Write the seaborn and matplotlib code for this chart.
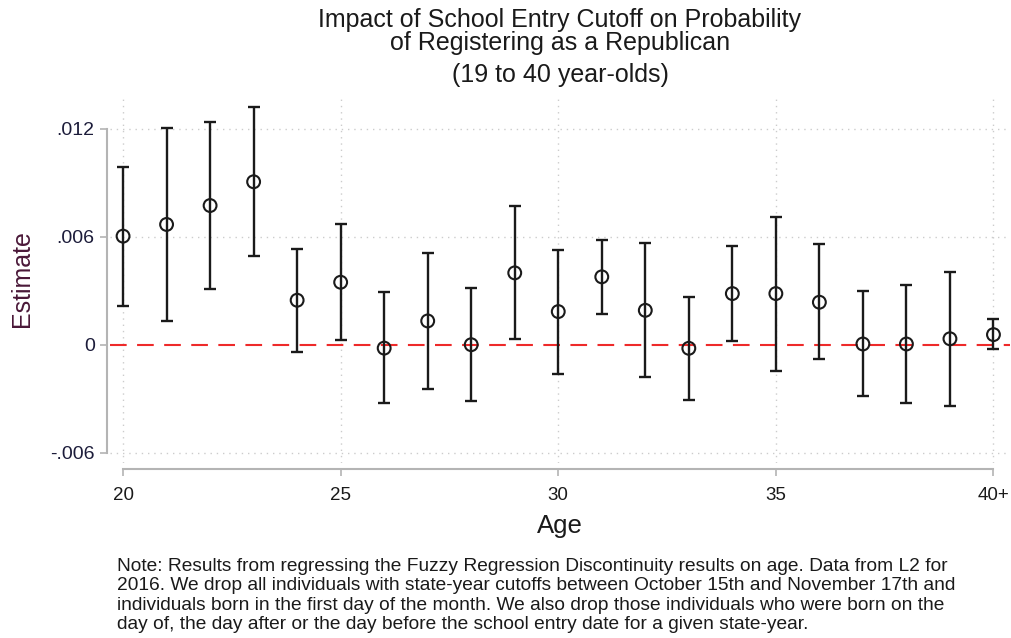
import numpy as np
import pandas as pd
import matplotlib
matplotlib.use("Agg")
import matplotlib.pyplot as plt
import seaborn as sns

# Point estimates and 95% confidence bounds by age (40 = "40+")
ages = [20, 21, 22, 23, 24, 25, 26, 27, 28, 29, 30,
        31, 32, 33, 34, 35, 36, 37, 38, 39, 40]
estimates = [0.00603, 0.00668, 0.00773, 0.00905, 0.00247, 0.00347, -0.00019,
             0.00132, 0.00000, 0.00399, 0.00184, 0.00377, 0.00191, -0.00020,
             0.00284, 0.00284, 0.00236, 0.00004, 0.00004, 0.00033, 0.00056]
ci_upper = [0.00989, 0.01206, 0.01239, 0.01319, 0.00532, 0.00673, 0.00291,
            0.00508, 0.00315, 0.00770, 0.00527, 0.00584, 0.00566, 0.00267,
            0.00549, 0.00712, 0.00558, 0.00297, 0.00332, 0.00406, 0.00141]
ci_lower = [0.00217, 0.00132, 0.00308, 0.00495, -0.00039, 0.00026, -0.00325,
            -0.00247, -0.00312, 0.00030, -0.00160, 0.00169, -0.00180, -0.00308,
            0.00020, -0.00145, -0.00082, -0.00287, -0.00323, -0.00338, -0.00026]

x_ticks = [20, 25, 30, 35, 40]
x_ticklabels = ["20", "25", "30", "35", "40+"]
y_ticks = [-0.006, 0, 0.006, 0.012]
y_ticklabels = ["-.006", "0", ".006", ".012"]

title_lines = ["Impact of School Entry Cutoff on Probability",
               "of Registering as a Republican"]
subtitle = "(19 to 40 year-olds)"
note_lines = [
    "Note: Results from regressing the Fuzzy Regression Discontinuity results on age. Data from L2 for",
    "2016. We drop all individuals with state-year cutoffs between October 15th and November 17th and",
    "individuals born in the first day of the month. We also drop those individuals who were born on the",
    "day of, the day after or the day before the school entry date for a given state-year.",
]

df = pd.DataFrame({"age": ages, "est": estimates,
                   "lo": ci_lower, "hi": ci_upper})

sns.set_theme(style="white")
plt.rcParams["font.family"] = ["Liberation Sans", "DejaVu Sans"]

W, H = 1011, 638
fig = plt.figure(figsize=(W / 100, H / 100), dpi=100)
AX_L, AX_R, AX_T, AX_B = 110, 1010, 95, 463
ax = fig.add_axes([AX_L / W, 1 - AX_B / H, (AX_R - AX_L) / W, (AX_B - AX_T) / H])

ink = "#1a1a1a"
grid_c = "#cccccc"
spine_c = "#b4b4b4"

# dotted grid
for yt in [-0.006, 0.006, 0.012]:
    ax.axhline(yt, color=grid_c, lw=1.0, ls=(0, (1, 3.5)), zorder=0)
for xt in x_ticks:
    ax.axvline(xt, color=grid_c, lw=1.0, ls=(0, (1, 3.5)), zorder=0)

# reference line at zero
ax.axhline(0, color="#ee2a2a", lw=1.5, ls=(0, (8, 5)), zorder=1)

# confidence intervals
ax.errorbar(df["age"], df["est"],
            yerr=[df["est"] - df["lo"], df["hi"] - df["est"]],
            fmt="none", ecolor=ink, elinewidth=1.7, capsize=4, capthick=1.7,
            zorder=2)

# point estimates as hollow circles
sns.scatterplot(data=df, x="age", y="est", ax=ax, marker="o", s=85,
                color=ink, edgecolor=ink, linewidth=1.5, zorder=3, legend=False)
for coll in ax.collections:
    if isinstance(coll, matplotlib.collections.PathCollection):
        coll.set_facecolor("none")
        coll.set_edgecolor(ink)

ax.set_xlim(19.7, 40.38)
ax.set_ylim(-0.00657, 0.01387)

ax.set_xticks(x_ticks)
ax.set_xticklabels(x_ticklabels)
ax.set_yticks(y_ticks)
ax.set_yticklabels(y_ticklabels)

for side in ["top", "right"]:
    ax.spines[side].set_visible(False)
ax.spines["left"].set_position(("outward", 2))
ax.spines["bottom"].set_position(("outward", 4))
ax.spines["left"].set_bounds(-0.006, 0.012)
ax.spines["bottom"].set_bounds(20, 40)
for side in ["left", "bottom"]:
    ax.spines[side].set_color(spine_c)
    ax.spines[side].set_linewidth(1.5)

ax.tick_params(axis="both", which="major", direction="out", length=5,
               width=1.2, color=spine_c, left=True, bottom=True)
ax.tick_params(axis="y", labelsize=14, labelcolor="#1c1c3a", pad=4)
ax.tick_params(axis="x", labelsize=13.5, labelcolor=ink, pad=8)

ax.set_xlabel("Age", fontsize=18.5, color=ink, va="baseline")
ax.xaxis.set_label_coords(0.5, -(533 - AX_B) / (AX_B - AX_T))
ax.set_ylabel("Estimate", fontsize=18, color="#4a1838", va="center")
ax.yaxis.set_label_coords(-(AX_L - 22) / (AX_R - AX_L), 0.5)

cx = (AX_L + AX_R) / 2 / W
for line, base in zip(title_lines, [27, 50]):
    fig.text(cx, 1 - base / H, line, ha="center", va="baseline",
             fontsize=18, color=ink)
fig.text(cx, 1 - 82 / H, subtitle, ha="center", va="baseline",
         fontsize=18, color=ink)

for line, base in zip(note_lines, [571, 590, 609.5, 629]):
    fig.text(117 / W, 1 - base / H, line, ha="left", va="baseline",
             fontsize=13.8, color=ink)

fig.savefig("out.png", dpi=100)
